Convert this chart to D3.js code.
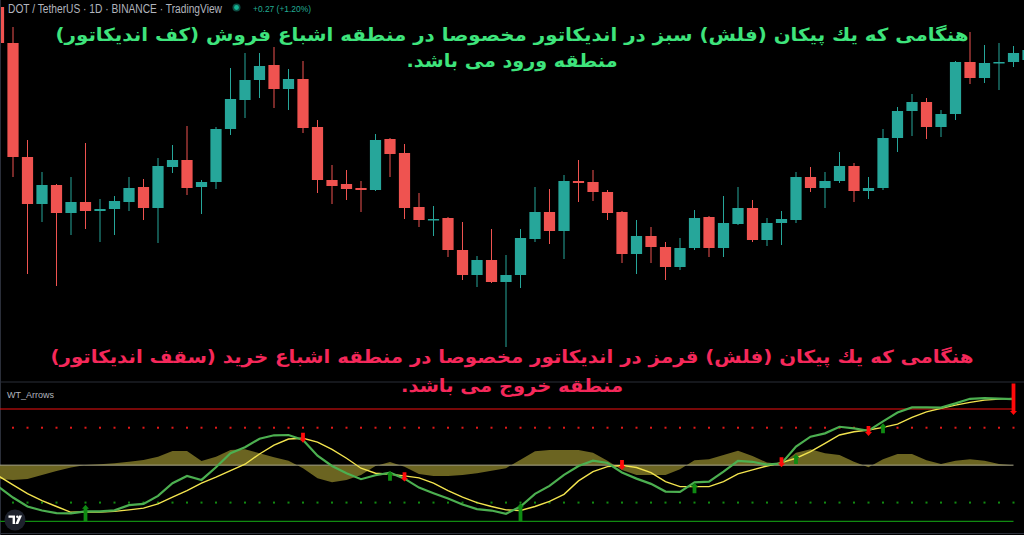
<!DOCTYPE html>
<html><head><meta charset="utf-8">
<script src="https://cdn.jsdelivr.net/npm/d3@7/dist/d3.min.js"></script>
<style>html,body{margin:0;padding:0;background:#000;overflow:hidden}</style>
</head><body>
<svg id="c" width="1024" height="535"></svg>
<script>
// ---- price data (DOT/USDT daily, bars -1 .. 70) ----
const open  = [24.86,24.14,21.86,20.92,21.30,20.74,20.96,20.78,20.82,20.96,21.26,20.84,21.66,21.80,21.26,21.36,22.42,23.00,23.40,23.70,23.22,23.42,22.46,21.40,21.32,21.24,21.20,22.22,21.94,20.86,20.60,20.64,20.00,19.50,19.80,19.36,19.50,20.22,20.76,20.38,21.38,21.36,21.16,20.76,19.92,20.28,20.06,19.66,20.04,20.66,20.04,20.52,20.84,20.20,20.54,20.60,21.46,21.24,21.38,21.68,21.18,21.24,22.24,22.78,22.96,22.46,22.72,23.76,23.44,23.74,23.76,23.80];
const high  = [25.00,24.46,22.20,21.56,21.32,21.46,22.14,21.02,21.08,21.46,21.42,21.84,22.10,22.48,21.40,22.46,23.64,23.94,23.94,24.06,23.62,23.78,22.60,21.70,21.60,21.38,22.32,22.24,22.12,21.14,20.88,20.66,20.56,19.88,20.42,19.90,20.42,21.26,21.22,21.50,21.80,21.60,21.20,20.78,20.60,20.46,20.16,20.24,20.80,20.68,21.08,21.26,21.00,20.64,20.78,21.56,21.66,21.56,21.96,21.74,21.46,22.42,22.86,23.12,23.04,22.80,23.78,24.36,24.10,24.14,24.08,24.04];
const low   = [24.14,21.46,19.52,20.56,19.28,20.30,20.42,20.16,20.30,20.78,20.60,20.14,21.54,21.10,20.72,21.22,22.30,22.64,23.04,22.84,22.80,22.34,21.14,20.92,21.00,20.76,21.18,21.46,20.62,20.46,20.28,19.86,19.40,19.26,19.34,18.06,19.24,20.16,20.12,19.82,20.96,20.98,20.60,19.74,19.52,19.74,19.40,19.60,20.00,19.86,19.86,20.50,20.16,20.08,20.10,20.54,21.16,20.84,21.34,20.96,21.02,21.20,21.96,22.28,22.22,22.26,22.60,23.32,23.34,23.20,23.66,23.64];
const close = [24.14,21.86,20.92,21.30,20.74,20.96,20.78,20.82,20.98,21.24,20.84,21.68,21.80,21.24,21.36,22.42,23.02,23.40,23.68,23.22,23.42,22.44,21.40,21.28,21.22,21.20,22.20,21.92,20.84,20.60,20.62,20.00,19.50,19.80,19.36,19.50,20.24,20.76,20.38,21.38,21.34,21.16,20.74,19.92,20.28,20.06,19.66,20.04,20.64,20.04,20.54,20.84,20.20,20.54,20.62,21.46,21.24,21.38,21.68,21.18,21.24,22.24,22.78,22.96,22.46,22.72,23.76,23.44,23.74,23.76,23.94,24.00];

// ---- WT_Arrows indicator (bars -1 .. 69) ----
const wt1 = [-23.2,-34.6,-44.2,-48.5,-51.3,-51.5,-49.4,-49.4,-48.3,-42.7,-41.4,-32.8,-19.3,-11.5,-15.8,-2.2,12.7,19.1,28.2,31.9,32.2,26.9,10.1,-0.9,-8.6,-15.0,-10.8,-8.0,-14.4,-24.0,-30.0,-35.7,-42.1,-47.0,-48.5,-52.0,-44.2,-30.7,-22.2,-10.4,-0.9,4.8,2.3,-7.8,-14.4,-20.0,-28.2,-28.6,-18.4,-17.6,-6.9,4.5,3.6,0.5,1.8,19.9,30.4,34.0,41.0,39.3,36.8,46.8,56.2,61.7,61.7,61.5,66.0,70.9,71.6,71.1,70.6];
const wt2 = [-11.5,-21.1,-30.4,-37.8,-44.2,-50.4,-49.9,-50.2,-49.4,-47.8,-45.9,-41.4,-34.2,-27.2,-19.3,-12.9,-5.9,1.0,11.9,21.5,27.9,28.7,24.7,16.9,7.4,-3.3,-8.6,-9.7,-11.5,-13.6,-19.3,-27.2,-34.2,-40.0,-44.2,-47.8,-48.5,-44.2,-38.7,-31.2,-16.8,-6.9,-1.6,-0.3,-2.5,-8.0,-17.6,-22.9,-22.9,-22.9,-17.6,-9.4,-5.1,-0.9,2.7,7.4,14.4,23.3,32.2,35.7,37.5,40.4,43.9,51.1,57.0,60.7,64.2,67.1,69.5,70.6,71.3];
const hist = [-14.7,-15.8,-14.7,-10.4,-6.2,-2.5,0.2,1.0,2.0,3.7,5.5,9.1,15.1,15.1,4.5,9.1,16.2,16.9,12.7,8.4,4.8,-3.3,-14.0,-18.2,-15.8,-10.4,-0.9,3.4,-1.6,-9.4,-11.5,-11.5,-10.4,-8.6,-5.9,-3.3,5.9,14.8,16.2,16.2,16.2,13.3,4.8,-5.1,-10.4,-10.4,-10.4,-4.4,5.2,6.3,10.9,15.5,9.8,2.7,1.3,13.3,16.9,12.7,10.9,3.7,-2.2,6.3,11.9,11.9,5.2,1.3,4.8,6.3,4.8,1.3,-0.1];
const obLevel1 = 60, obLevel2 = 40, osLevel1 = -60, osLevel2 = -40;

// arrows: bar, tip value, tail value
const upBars   = [5, 26, 35, 47, 54, 60];
const upTips   = [-42.4, -6.2, -40.6, -18.7, 11.9, 44.7];
const upTails  = [-60.2, -16.8, -60.2, -30.0, 1.3, 34.0];
const dnBars   = [20, 27, 42, 53, 59, 69];
const dnTips   = [24.0, -17.6, -5.1, -2.2, 31.1, 53.5];
const dnTails  = [34.6, -7.6, 5.5, 8.4, 41.8, 87.3];

// ---- texts ----
const header = "DOT / TetherUS · 1D · BINANCE · TradingView";
const change = "+0.27 (+1.20%)";
const greenLines = ["هنگامی  که یك پیکان (فلش) سبز در اندیکاتور مخصوصا در منطقه اشباع فروش (کف اندیکاتور)", "منطقه ورود می  باشد."];
const redLines = ["هنگامی  که یك پیکان (فلش) قرمز در اندیکاتور مخصوصا در منطقه اشباع خرید (سقف اندیکاتور)", "منطقه خروج می  باشد."];
const paneTitle = "WT_Arrows";

const UP = "#26a69a", DN = "#ef5350";
const svg = d3.select("#c");
svg.append("rect").attr("width",1024).attr("height",535).attr("fill","#000");

const firstBar = -1;
const priceBars = d3.range(firstBar, firstBar + open.length);
const indBars = d3.range(firstBar, firstBar + wt1.length);

const x = d3.scaleLinear().domain([-1, 70]).range([-1.5, 1028]);
const yP = d3.scaleLinear().domain([17.4, 25]).range([380, 0]);
const yO = d3.scaleLinear().domain([-60, 60]).range([521.3, 409]);

const defs = svg.append("defs");
defs.append("clipPath").attr("id","cpMain").append("rect").attr("x",0).attr("y",0).attr("width",1024).attr("height",381.5);
defs.append("clipPath").attr("id","cpInd").append("rect").attr("x",0).attr("y",382.5).attr("width",1024).attr("height",152);

// ---- candles ----
const gMain = svg.append("g").attr("clip-path","url(#cpMain)");
const bw = 11.2;
const cd = priceBars.map((b,i)=>({b, o:open[i], h:high[i], l:low[i], c:close[i]}));
gMain.selectAll("line.wick").data(cd).join("line")
  .attr("x1",d=>x(d.b)).attr("x2",d=>x(d.b))
  .attr("y1",d=>yP(d.h)).attr("y2",d=>yP(d.l))
  .attr("stroke",d=>d.c>=d.o?UP:DN).attr("stroke-width",1);
gMain.selectAll("rect.body").data(cd).join("rect")
  .attr("x",d=>x(d.b)-bw/2).attr("width",bw)
  .attr("y",d=>yP(Math.max(d.o,d.c)))
  .attr("height",d=>Math.max(1.5, Math.abs(yP(d.o)-yP(d.c))))
  .attr("fill",d=>d.c>=d.o?UP:DN);

// ---- borders ----
svg.append("line").attr("x1",0).attr("x2",1024).attr("y1",382).attr("y2",382).attr("stroke","#2a2e39").attr("stroke-width",1);
svg.append("line").attr("x1",0).attr("x2",1024).attr("y1",533.5).attr("y2",533.5).attr("stroke","#2a2e39").attr("stroke-width",1);
svg.append("line").attr("x1",0.5).attr("x2",0.5).attr("y1",0).attr("y2",535).attr("stroke","#2a2e39").attr("stroke-width",1);

// ---- header ----
svg.append("text").attr("x",8).attr("y",13).attr("fill","#b2b5be")
  .attr("font-family","Liberation Sans, Arial, sans-serif").attr("font-size",12)
  .attr("textLength",214).attr("lengthAdjust","spacingAndGlyphs").text(header);
svg.append("circle").attr("cx",236.5).attr("cy",7.5).attr("r",4).attr("fill","#0d4d43");
svg.append("circle").attr("cx",236.5).attr("cy",7.5).attr("r",2.4).attr("fill","#14b394");
svg.append("text").attr("x",253).attr("y",12).attr("fill","#22ab94")
  .attr("font-family","Liberation Sans, Arial, sans-serif").attr("font-size",9.5)
  .attr("textLength",58).attr("lengthAdjust","spacingAndGlyphs").text(change);

// ---- indicator ----
const gInd = svg.append("g").attr("clip-path","url(#cpInd)");
const id = indBars.map((b,i)=>({b, w1:wt1[i], w2:wt2[i], h:hist[i]}));
gInd.append("path").datum(id)
  .attr("d", d3.area().x(d=>x(d.b)).y0(yO(0)).y1(d=>yO(d.h)))
  .attr("fill","#6b6421");
const xL = x(indBars[0]), xR = x(indBars[indBars.length-1]);
gInd.append("line").attr("x1",xL).attr("x2",xR).attr("y1",yO(0)).attr("y2",yO(0)).attr("stroke","#a8a58a").attr("stroke-width",1);
gInd.append("line").attr("x1",xL).attr("x2",xR).attr("y1",yO(obLevel1)).attr("y2",yO(obLevel1)).attr("stroke","#f01010").attr("stroke-width",1.2);
gInd.append("line").attr("x1",xL).attr("x2",xR).attr("y1",yO(osLevel1)).attr("y2",yO(osLevel1)).attr("stroke","#118a11").attr("stroke-width",1.2);
const dotBars = indBars.filter(b=>b>=0);
gInd.selectAll("rect.obd").data(dotBars).join("rect")
  .attr("x",b=>x(b)-1).attr("y",yO(obLevel2)-1).attr("width",2).attr("height",2).attr("fill","#e01818");
gInd.selectAll("rect.osd").data(dotBars).join("rect")
  .attr("x",b=>x(b)-1).attr("y",yO(osLevel2)-1).attr("width",2).attr("height",2).attr("fill","#118a11");

gInd.append("path").datum(id)
  .attr("d", d3.line().x(d=>x(d.b)).y(d=>yO(d.w2)))
  .attr("fill","none").attr("stroke","#f2e34e").attr("stroke-width",1.4);
gInd.append("path").datum(id)
  .attr("d", d3.line().x(d=>x(d.b)).y(d=>yO(d.w1)))
  .attr("fill","none").attr("stroke","#4caf50").attr("stroke-width",2.2);

function arrowPath(cx, tipY, tailY){
  const dir = tipY < tailY ? -1 : 1; // -1 = pointing up
  const hw = 3.5, sw = 1.9, hl = Math.min(4, Math.abs(tailY-tipY)*0.4);
  const neck = tipY - dir*hl;
  return `M${cx-sw},${tailY} L${cx+sw},${tailY} L${cx+sw},${neck} L${cx+hw},${neck} L${cx},${tipY} L${cx-hw},${neck} L${cx-sw},${neck} Z`;
}
const ups = upBars.map((b,i)=>({b, tip:upTips[i], tail:upTails[i]}));
const dns = dnBars.map((b,i)=>({b, tip:dnTips[i], tail:dnTails[i]}));
gInd.selectAll("path.up").data(ups).join("path")
  .attr("d",d=>arrowPath(x(d.b), yO(d.tip), yO(d.tail))).attr("fill","#0f8a12");
gInd.selectAll("path.dn").data(dns).join("path")
  .attr("d",d=>arrowPath(x(d.b), yO(d.tip), yO(d.tail))).attr("fill","#ff0a0a");

svg.append("text").attr("x",7).attr("y",398).attr("fill","#b2b5be")
  .attr("font-family","Liberation Sans, Arial, sans-serif").attr("font-size",9).text(paneTitle);

// TradingView logo
svg.append("circle").attr("cx",15).attr("cy",520).attr("r",10.5).attr("fill","#1e222d");
const logo = svg.append("g").attr("fill","#ffffff");
logo.append("path").attr("d","M8.5,515.5 H15 V524 H12.6 V517.7 H8.5 Z");
logo.append("circle").attr("cx",17.3).attr("cy",516.7).attr("r",1.2);
logo.append("path").attr("d","M19,515.5 H22 L18.2,524 H15.4 Z");

// ---- Persian annotations ----
function para(lines, color, ys, widths){
  lines.forEach((t,i)=>{
    svg.append("text").attr("x",512).attr("y",ys[i]).attr("text-anchor","middle")
      .attr("direction","rtl").attr("fill",color)
      .attr("font-family","DejaVu Sans, sans-serif").attr("font-weight","bold").attr("font-size",18)
      .attr("textLength",widths[i]).attr("lengthAdjust","spacingAndGlyphs").text(t);
  });
}
para(greenLines, "#3ee47c", [41, 67], [913, 211]);
para(redLines, "#f5285a", [363, 392], [923, 222]);
</script>
</body></html>
